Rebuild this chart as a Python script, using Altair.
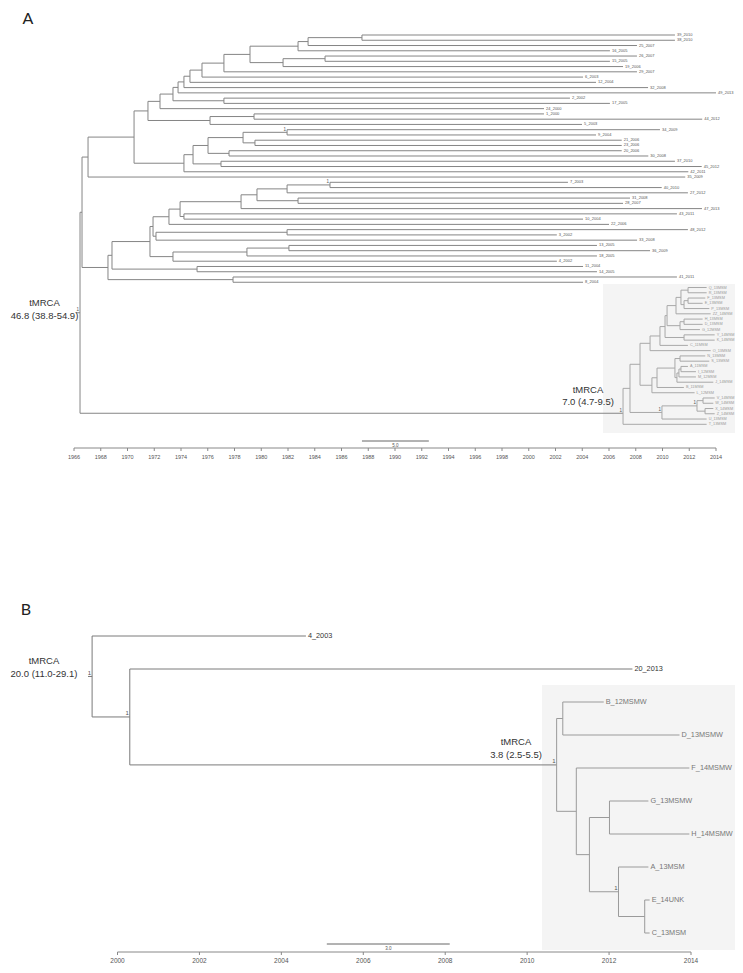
import altair as alt
import pandas as pd

VIEW_W, VIEW_H = 727, 956
OX, OY = 8, 8
FONT = "Liberation Sans"

# ---------------- Panel A data ----------------
tips_A = ["39_2010", "38_2010", "25_2007", "16_2005", "26_2007", "15_2005", "19_2006", "29_2007",
          "6_2003", "12_2004", "32_2008", "49_2013", "2_2002", "17_2005", "24_2000", "1_2000",
          "44_2012", "5_2003", "34_2009", "9_2004", "21_2006", "23_2006", "20_2006", "30_2008",
          "37_2010", "45_2012", "42_2011", "35_2009", "7_2003", "40_2010", "27_2012", "31_2008",
          "28_2007", "47_2013", "43_2011", "10_2004", "22_2006", "48_2012", "3_2002", "33_2008",
          "13_2005", "36_2009", "18_2005", "4_2002", "11_2004", "14_2005", "41_2011", "8_2004",
          "Q_13MSM", "R_13MSM", "F_13MSM", "E_13MSM", "P_13MSM", "ZZ_14MSM", "H_13MSM", "D_13MSM",
          "G_12MSM", "Y_14MSM", "K_14MSM", "C_11MSM", "O_13MSM", "N_13MSM", "S_13MSM", "A_11MSM",
          "I_12MSM", "M_12MSM", "J_14MSM", "B_11MSM", "L_12MSM", "V_14MSM", "W_14MSM", "X_14MSM",
          "Z_14MSM", "U_13MSM", "T_13MSM"]
tipyear_A = [2010.93, 2010.93, 2008.09, 2006.07, 2008.09, 2006.07, 2007.05, 2008.09,
             2004.06, 2005.03, 2008.92, 2014.0, 2003.08, 2006.07, 2001.14, 2001.14,
             2012.97, 2003.98, 2009.81, 2005.03, 2006.95, 2006.95, 2006.95, 2008.94,
             2010.93, 2012.93, 2011.93, 2011.7, 2002.93, 2009.94, 2011.9, 2007.57,
             2007.05, 2012.95, 2011.08, 2004.06, 2006.0, 2011.9, 2002.1, 2008.1,
             2005.1, 2009.07, 2005.1, 2002.1, 2004.06, 2005.1, 2011.08, 2004.06,
             2013.3, 2013.3, 2013.2, 2013.0, 2013.5, 2013.6, 2013.0, 2013.0,
             2012.8, 2013.9, 2013.9, 2011.9, 2013.6, 2013.2, 2013.5, 2011.9,
             2012.5, 2012.5, 2013.8, 2011.6, 2012.4, 2013.9, 2013.8, 2013.8,
             2013.9, 2013.3, 2013.3]
# internal nodes: (name, child 1, child 2, node date)
nodes_A = [
    ("N1", "t0", "t1", 1987.53), ("N2", "N1", "t2", 1983.50), ("N3", "N2", "t3", 1982.75),
    ("N5", "t4", "t5", 1984.77), ("N6", "N5", "t6", 1981.63), ("N4", "N3", "N6", 1979.16),
    ("N7", "N4", "t7", 1977.21), ("N8", "N7", "t8", 1975.57), ("N9", "N8", "t9", 1974.67),
    ("V", "N9", "t10", 1974.22), ("W", "V", "t11", 1973.78), ("N12", "t12", "t13", 1977.21),
    ("X", "W", "N12", 1973.40), ("S", "X", "t14", 1972.43), ("Q", "t15", "t16", 1979.46),
    ("R", "Q", "t17", 1976.17), ("T", "S", "R", 1971.53),
    ("A1", "t18", "t19", 1981.93), ("A2", "t20", "t21", 1979.53), ("A3", "A1", "A2", 1978.64),
    ("A4", "t22", "t23", 1977.59), ("A5", "A3", "A4", 1976.02), ("A6", "t24", "t25", 1976.99),
    ("A7", "A5", "A6", 1974.90), ("A8", "A7", "t26", 1974.22), ("B0", "T", "A8", 1970.49),
    ("U", "B0", "t27", 1967.05),
    ("C1", "t28", "t29", 1985.14), ("C2", "C1", "t30", 1981.93), ("C3", "t31", "t32", 1982.75),
    ("C4", "C2", "C3", 1979.68), ("C5", "C4", "t33", 1978.49), ("C6", "t34", "t35", 1974.22),
    ("C7", "C5", "C6", 1973.93), ("C8", "C7", "t36", 1973.10), ("C9", "t37", "t38", 1981.93),
    ("C10", "C9", "t39", 1972.13), ("C11", "C8", "C10", 1971.91), ("C12", "t40", "t41", 1982.07),
    ("C13", "C12", "t42", 1978.93), ("C14", "C13", "t43", 1973.40), ("C15", "C11", "C14", 1971.68),
    ("C16", "t44", "t45", 1975.20), ("C17", "C15", "C16", 1968.84), ("C18", "t46", "t47", 1977.89),
    ("C19", "C17", "C18", 1968.54), ("M0", "U", "C19", 1966.60),
    # MSM cluster (grey inset)
    ("iQR", "t48", "t49", 2011.91), ("iFE", "t50", "t51", 2011.91), ("iFEP", "iFE", "t52", 2011.61),
    ("iQRFEP", "iQR", "iFEP", 2011.38), ("i1", "iQRFEP", "t53", 2011.01),
    ("iHD", "t54", "t55", 2011.61), ("iHDG", "iHD", "t56", 2011.31), ("i2", "i1", "iHDG", 2010.34),
    ("iYK", "t57", "t58", 2011.61), ("i3", "i2", "iYK", 2010.19), ("i4", "i3", "t59", 2009.81),
    ("i5", "i4", "t60", 2009.07), ("iNS", "t61", "t62", 2011.31), ("iAI", "t63", "t64", 2011.38),
    ("iAIM", "iAI", "t65", 2011.23), ("iAIMJ", "iAIM", "t66", 2011.08), ("i6", "iNS", "iAIMJ", 2010.93),
    ("i7", "i6", "t67", 2009.59), ("i8", "i7", "t68", 2009.21), ("i9", "i5", "i8", 2008.32),
    ("iVW", "t69", "t70", 2013.03), ("iXZ", "t71", "t72", 2013.18), ("iVWXZ", "iVW", "iXZ", 2012.58),
    ("iVWXZU", "iVWXZ", "t73", 2009.96), ("iX1", "i9", "iVWXZU", 2007.57), ("IR", "iX1", "t74", 2007.05),
    ("Root", "M0", "IR", 1966.45),
]
inset_root_A = "IR"
attach_A = {"IR": 71.9}          # row where the long branch meets the grey inset
support_A = ["Root", "A1", "C1", "IR", "iVWXZU", "iVWXZ"]
ticks_A = [1966, 1968, 1970, 1972, 1974, 1976, 1978, 1980, 1982, 1984, 1986, 1988, 1990,
           1992, 1994, 1996, 1998, 2000, 2002, 2004, 2006, 2008, 2010, 2012, 2014]
scalebar_A = [1987.53, 1992.53]

# ---------------- Panel B data ----------------
tips_B = ["4_2003", "20_2013", "B_12MSMW", "D_13MSMW", "F_14MSMW", "G_13MSMW", "H_14MSMW",
          "A_13MSM", "E_14UNK", "C_13MSM"]
tipyear_B = [2004.6, 2012.57, 2011.87, 2013.72, 2013.96, 2012.96, 2013.96, 2012.96, 2012.99, 2012.99]
nodes_B = [
    ("bBD", "t2", "t3", 2010.87), ("bEC", "t8", "t9", 2012.87), ("bAEC", "t7", "bEC", 2012.23),
    ("bGH", "t5", "t6", 2012.01), ("bGHAEC", "bGH", "bAEC", 2011.52), ("bF", "t4", "bGHAEC", 2011.20),
    ("bIn", "bBD", "bF", 2010.72), ("bN1", "t1", "bIn", 2000.30), ("bRoot", "t0", "bN1", 1999.38),
]
inset_root_B = "bIn"
attach_B = {}
support_B = ["bRoot", "bN1", "bIn", "bAEC"]
ticks_B = [2000, 2002, 2004, 2006, 2008, 2010, 2012, 2014]
scalebar_B = [2005.11, 2008.11]


def lin_domain(v0, p0, v1, p1, lo, hi):
    k = (v1 - v0) / (p1 - p0)
    return [v0 + (lo - p0) * k, v0 + (hi - p0) * k]


def layout(tips, years, nodes, root, inset_root, attach, stub):
    kids = {n: (a, b, x) for n, a, b, x in nodes}
    pos = {f"t{i}": (years[i], float(i)) for i in range(len(tips))}

    def place(n):
        if n not in pos:
            a, b, x = kids[n]
            pos[n] = (x, (cy(a) + cy(b)) / 2.0)
        return pos[n][1]

    def cy(c):  # row at which a child's incoming branch is drawn
        place(c)
        return attach.get(c, pos[c][1])

    place(root)
    inset = set()

    def mark(n):
        inset.add(n)
        if n in kids:
            mark(kids[n][0])
            mark(kids[n][1])

    mark(inset_root)
    segs = []
    for n, (a, b, x) in kids.items():
        g = "inset" if n in inset else "main"
        segs.append(dict(x=x, x2=x, y=cy(a), y2=cy(b), g=g))
        for c in (a, b):
            gc = "inset" if (c in inset and n in inset) else "main"
            segs.append(dict(x=x, x2=pos[c][0], y=cy(c), y2=cy(c), g=gc))
    rx, ry = pos[root]
    segs.append(dict(x=rx - stub, x2=rx, y=ry, y2=ry, g="main"))
    tipdf = pd.DataFrame(dict(x=years, y=list(range(len(tips))), label=tips,
                              g=["inset" if f"t{i}" in inset else "main" for i in range(len(tips))]))
    return pos, pd.DataFrame(segs), tipdf


def txt(s, px, py, size, color="#333333", align="center", font=FONT, baseline="middle"):
    return alt.Chart(pd.DataFrame({"t": [s]})).mark_text(
        align=align, baseline=baseline, fontSize=size, color=color, font=font
    ).encode(x=alt.value(px - OX), y=alt.value(py - OY), text="t:N")


def panel(tips, years, nodes, root, inset_root, attach, support, ticks, sbar, sbar_label,
          xanch, yanch, box, axis_y, sbar_y, tipsize, insetsize, tipcol, insetcol, linecol, insetline,
          ticksize, supsize, stub):
    sx = alt.Scale(domain=lin_domain(*xanch, OX, OX + VIEW_W), nice=False, zero=False)
    sy = alt.Scale(domain=lin_domain(*yanch, OY, OY + VIEW_H), nice=False, zero=False, reverse=True)
    pos, segs, tipdf = layout(tips, years, nodes, root, inset_root, attach, stub)
    X = lambda f: alt.X(f, scale=sx, axis=None)
    Y = lambda f: alt.Y(f, scale=sy, axis=None)
    layers = []
    layers.append(alt.Chart(pd.DataFrame({"a": [0]})).mark_rect(color="#f4f4f4").encode(
        x=alt.value(box[0] - OX), x2=alt.value(box[1] - OX),
        y=alt.value(box[2] - OY), y2=alt.value(box[3] - OY)))
    for grp, col in (("main", linecol), ("inset", insetline)):
        layers.append(alt.Chart(segs[segs.g == grp]).mark_rule(color=col, strokeWidth=1).encode(
            x=X("x:Q"), x2="x2:Q", y=Y("y:Q"), y2="y2:Q"))
    for grp, col, fs in (("main", tipcol, tipsize), ("inset", insetcol, insetsize)):
        layers.append(alt.Chart(tipdf[tipdf.g == grp]).mark_text(
            align="left", baseline="middle", dx=2, fontSize=fs, color=col, font=FONT
        ).encode(x=X("x:Q"), y=Y("y:Q"), text="label:N"))
    sup = pd.DataFrame(dict(x=[pos[n][0] for n in support],
                            y=[attach.get(n, pos[n][1]) for n in support],
                            label=["1"] * len(support)))
    layers.append(alt.Chart(sup).mark_text(
        align="right", baseline="bottom", dx=-1, dy=-0.5, fontSize=supsize, color="#555555", font=FONT
    ).encode(x=X("x:Q"), y=Y("y:Q"), text="label:N"))
    # axis
    adf = pd.DataFrame(dict(t=ticks, label=[str(t) for t in ticks]))
    layers.append(alt.Chart(pd.DataFrame(dict(a=[ticks[0]], b=[ticks[-1]]))).mark_rule(
        color="#888888", strokeWidth=1).encode(x=X("a:Q"), x2="b:Q", y=alt.value(axis_y - OY)))
    layers.append(alt.Chart(adf).mark_rule(color="#888888", strokeWidth=1).encode(
        x=X("t:Q"), y=alt.value(axis_y - OY), y2=alt.value(axis_y + 3 - OY)))
    layers.append(alt.Chart(adf).mark_text(
        baseline="middle", fontSize=ticksize, color="#555555", font=FONT
    ).encode(x=X("t:Q"), y=alt.value(axis_y + 9 - OY), text="label:N"))
    # scale bar
    sdf = pd.DataFrame(dict(a=[sbar[0]], b=[sbar[1]], m=[(sbar[0] + sbar[1]) / 2], label=[sbar_label]))
    layers.append(alt.Chart(sdf).mark_rule(color="#666666", strokeWidth=1).encode(
        x=X("a:Q"), x2="b:Q", y=alt.value(sbar_y - OY)))
    layers.append(alt.Chart(sdf).mark_text(
        baseline="middle", fontSize=4.5, color="#555555", font=FONT
    ).encode(x=X("m:Q"), y=alt.value(sbar_y + 5 - OY), text="label:N"))
    return layers


layers = []
layers += panel(tips_A, tipyear_A, nodes_A, "Root", inset_root_A, attach_A, support_A, ticks_A,
                scalebar_A, "5.0",
                xanch=(1966, 74, 2014, 716), yanch=(0, 35, 74, 424.3), box=(603, 743, 284, 433),
                axis_y=448, sbar_y=441, tipsize=4, insetsize=3.8, tipcol="#555555", insetcol="#999999",
                linecol="#858585", insetline="#a8a8a8", ticksize=5.5, supsize=4.5, stub=0.3)
layers += panel(tips_B, tipyear_B, nodes_B, "bRoot", inset_root_B, attach_B, support_B, ticks_B,
                scalebar_B, "3.0",
                xanch=(2000, 117.5, 2014, 691), yanch=(0, 636, 9, 933), box=(542, 743, 685, 950),
                axis_y=952, sbar_y=944, tipsize=7.3, insetsize=7.3, tipcol="#333333", insetcol="#777777",
                linecol="#7a7a7a", insetline="#9a9a9a", ticksize=6.5, supsize=6, stub=0.1)

# annotations
layers += [
    txt("A", 28, 24, 16, "#222222", font="Lato", baseline="alphabetic"),
    txt("B", 26, 615, 16, "#222222", font="Lato", baseline="alphabetic"),
    txt("tMRCA", 44.5, 303, 9.5), txt("46.8 (38.8-54.9)", 44.5, 316, 9.5),
    txt("tMRCA", 588, 390, 9.5), txt("7.0 (4.7-9.5)", 588, 402, 9.5),
    txt("tMRCA", 44, 661, 9.5), txt("20.0 (11.0-29.1)", 44, 673.5, 9.5),
    txt("tMRCA", 516, 742, 9.5), txt("3.8 (2.5-5.5)", 516, 755, 9.5),
]

chart = alt.layer(*layers).resolve_scale(x="independent", y="independent").properties(
    width=VIEW_W, height=VIEW_H, padding=0, autosize=alt.AutoSizeParams(type="none")
).configure_view(stroke=None)

chart.save("out.html", embed_options={"renderer": "svg", "actions": False})
